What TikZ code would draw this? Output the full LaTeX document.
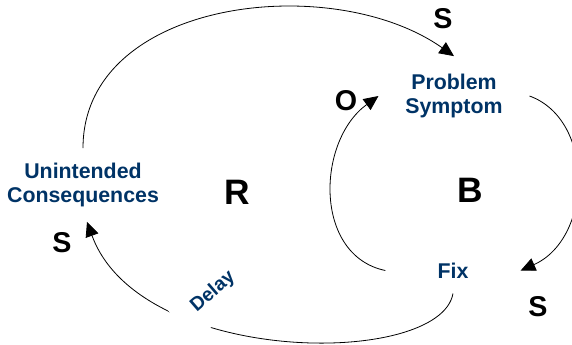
\documentclass[tikz,border=0pt]{standalone}
\usepackage{fontspec}
\setmainfont{Liberation Sans}
\usetikzlibrary{arrows.meta}
\definecolor{varblue}{HTML}{003366}

\begin{document}
\begin{tikzpicture}[x=0.75pt, y=0.75pt,
  var/.style={text=varblue, font=\fontsize{16}{17.5}\selectfont\bfseries, align=center},
  pol/.style={font=\fontsize{21.5}{24}\selectfont\bfseries, inner sep=0pt},
  lp/.style={font=\fontsize{26.5}{30}\selectfont\bfseries, inner sep=0pt},
  link/.style={-{Triangle[length=11pt, width=10pt]}, line width=0.6pt}]
\useasboundingbox (0,0) rectangle (572,-344);
% variables
\node[var, inner ysep=11.25pt] (uc) at (83,-185) {Unintended\\Consequences};
\node[var, inner xsep=20pt, inner ysep=13.5pt] (ps) at (454,-96) {Problem\\Symptom};
\node[var, inner xsep=39pt, inner ysep=11.25pt] (fix) at (453,-270.5) {Fix};
% loops
\node[lp] (r) at (237,-192) {R};
\node[lp] (b) at (470,-190) {B};
% links
\draw[link] (uc.north) .. controls +(0,149) and +(-122,86) .. (ps.north);
\draw[link] (ps.east) .. controls +(66,-24) and +(72,32) .. (fix.east);
\draw[link] (fix.west) .. controls +(-72,15) and +(-62,-45) .. (ps.west);
\draw[link] (fix.south) .. controls +(-13,-74) and +(53,-145) .. ([xshift=3pt]uc.south);
\node[var, font=\fontsize{14.5}{16}\selectfont\bfseries, fill=white, rotate=41,
  minimum width=69pt, minimum height=38pt] (dl) at (213,-292) {Delay};
% polarities
\node[pol] (s1) at (443,-19) {S};
\node[pol] (s2) at (538,-307) {S};
\node[pol] (o1) at (346,-101) {O};
\node[pol] (s3) at (62,-243) {S};
\end{tikzpicture}
\end{document}
